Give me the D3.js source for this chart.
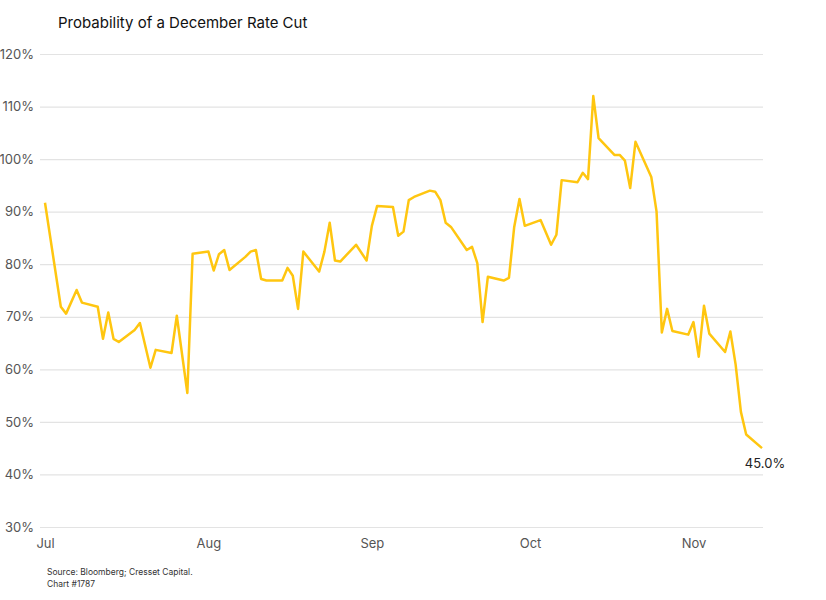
<!DOCTYPE html>
<html>
<head>
<meta charset="utf-8">
<script src="https://cdn.jsdelivr.net/npm/d3@7"></script>
<style>
  body { margin: 0; background: #fff; }
  text { font-family: Inter, "Noto Sans", sans-serif; }
</style>
</head>
<body>
<svg id="chart" width="826" height="600"></svg>
<script>
const dates = [
  "2025-07-01","2025-07-04","2025-07-05","2025-07-07","2025-07-08","2025-07-11","2025-07-12","2025-07-13",
  "2025-07-14","2025-07-15","2025-07-18","2025-07-19","2025-07-21","2025-07-22","2025-07-25","2025-07-26",
  "2025-07-28","2025-07-29","2025-08-01","2025-08-02","2025-08-03","2025-08-04","2025-08-05","2025-08-08",
  "2025-08-09","2025-08-10","2025-08-11","2025-08-12","2025-08-15","2025-08-16","2025-08-17","2025-08-18",
  "2025-08-19","2025-08-22","2025-08-23","2025-08-24","2025-08-25","2025-08-26","2025-08-29","2025-08-31",
  "2025-09-01","2025-09-02","2025-09-05","2025-09-06","2025-09-07","2025-09-08","2025-09-09","2025-09-12",
  "2025-09-13","2025-09-14","2025-09-15","2025-09-16","2025-09-19","2025-09-20","2025-09-21","2025-09-22",
  "2025-09-23","2025-09-26","2025-09-27","2025-09-28","2025-09-29","2025-09-30","2025-10-03","2025-10-05",
  "2025-10-06","2025-10-07","2025-10-10","2025-10-11","2025-10-12","2025-10-13","2025-10-14","2025-10-17",
  "2025-10-18","2025-10-19","2025-10-20","2025-10-21","2025-10-24","2025-10-25","2025-10-26","2025-10-27",
  "2025-10-28","2025-10-31","2025-11-01","2025-11-02","2025-11-03","2025-11-04","2025-11-07","2025-11-08",
  "2025-11-09","2025-11-10","2025-11-11","2025-11-14"
];
const probability = [
  91.7,71.9,70.6,75.1,72.7,71.9,65.8,70.8,
  65.8,65.2,67.5,68.8,60.3,63.7,63.1,70.2,
  55.5,82.0,82.4,78.8,81.9,82.7,78.9,81.4,
  82.4,82.7,77.2,76.9,76.9,79.3,77.8,71.5,
  82.4,78.6,82.4,87.9,80.7,80.5,83.7,80.7,
  87.3,91.1,90.9,85.4,86.2,92.2,92.8,94.0,
  93.8,92.2,87.9,87.1,82.7,83.3,80.2,69.0,
  77.6,76.9,77.4,87.1,92.4,87.3,88.4,83.7,
  85.6,96.0,95.6,97.4,96.2,112.0,104.0,100.8,
  100.8,99.7,94.5,103.3,96.6,90.0,67.0,71.5,
  67.3,66.6,69.0,62.4,72.1,66.8,63.3,67.2,
  60.9,51.9,47.6,45.0
];
const yTicks = [30, 40, 50, 60, 70, 80, 90, 100, 110, 120];
const monthTicks = ["2025-07-01","2025-08-01","2025-09-01","2025-10-01","2025-11-01"];

const parse = d3.utcParse("%Y-%m-%d");
const data = dates.map((d, i) => ({ date: parse(d), value: probability[i] }));

const svg = d3.select("#chart");
const x = d3.scaleUtc().domain([parse("2025-07-01"), parse("2025-11-14")]).range([45, 762]);
const y = d3.scaleLinear().domain([30, 120]).range([527, 54]);

svg.append("text").attr("x", 58).attr("y", 28)
  .attr("font-size", 15).attr("fill", "#111").text("Probability of a December Rate Cut");

const yAxis = svg.append("g").attr("transform", "translate(40,0)")
  .call(d3.axisLeft(y).tickValues(yTicks).tickSize(-723).tickFormat(d => d + "%"));
yAxis.select(".domain").remove();
yAxis.selectAll(".tick line").attr("stroke", "#e3e3e3").attr("stroke-width", 1.2);
yAxis.selectAll(".tick text").attr("x", -6).attr("font-size", 13).attr("fill", "#555")
  .attr("text-anchor", "end");

const xAxis = svg.append("g").attr("transform", "translate(0,527)")
  .call(d3.axisBottom(x).tickValues(monthTicks.map(parse)).tickSize(0).tickFormat(d3.utcFormat("%b")));
xAxis.select(".domain").remove();
xAxis.selectAll(".tick text").attr("dy", 18).attr("font-size", 13).attr("fill", "#555");

svg.append("path").datum(data)
  .attr("fill", "none").attr("stroke", "#FFC610").attr("stroke-width", 2.5)
  .attr("stroke-linejoin", "round")
  .attr("d", d3.line().x(d => x(d.date)).y(d => y(d.value)));

const last = data[data.length - 1];
svg.append("text").attr("x", x(last.date) + 3).attr("y", y(last.value) + 20)
  .attr("text-anchor", "middle").attr("font-size", 13).attr("fill", "#222")
  .text(last.value.toFixed(1) + "%");

svg.append("text").attr("x", 47).attr("y", 575).attr("font-size", 8.5).attr("fill", "#333")
  .text("Source: Bloomberg; Cresset Capital.");
svg.append("text").attr("x", 47).attr("y", 587).attr("font-size", 8.5).attr("fill", "#333")
  .text("Chart #1787");
</script>
</body>
</html>
